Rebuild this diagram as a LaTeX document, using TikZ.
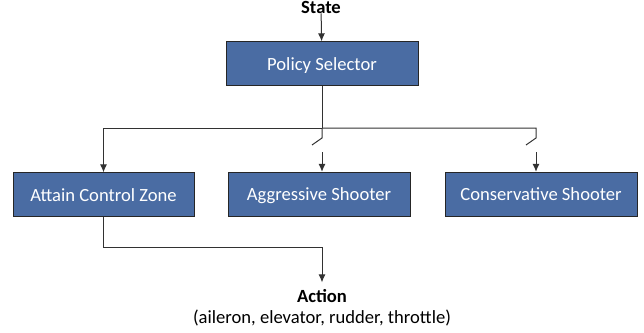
\documentclass[tikz,border=0pt]{standalone}
\usepackage{fontspec}
\setmainfont{Carlito}
\usetikzlibrary{arrows.meta,positioning,calc}
\definecolor{boxblue}{RGB}{74,108,163}
\definecolor{wire}{RGB}{50,50,50}

\begin{document}
\begin{tikzpicture}[
    x=1bp, y=-1bp,
    >={Latex[length=8bp,width=7bp]},
    policybox/.style={draw=black!85, fill=boxblue, text=white, minimum height=44bp,
        inner sep=0pt, text height=13bp, text depth=0bp,
        font=\fontsize{18.6bp}{22bp}\selectfont},
    label/.style={font=\fontsize{18.6bp}{22bp}\selectfont, inner sep=0pt},
    wirestyle/.style={draw=wire, line width=1bp}
]
    \useasboundingbox (0,0) rectangle (644,332);

    % Input and selector
    \node[label, font=\fontsize{18.6bp}{22bp}\selectfont\bfseries] (state) at (321,7) {State};
    \node[policybox, minimum width=192bp] (selector) at (322,63.5) {Policy Selector};

    % Policies
    \node[policybox, minimum width=181bp] (attain) at (103.5,194.5) {Attain Control Zone};
    \node[policybox, minimum width=182bp] (aggr) at (319,194) {Aggressive Shooter};
    \node[policybox, minimum width=192bp] (cons) at (541,194) {Conservative Shooter};

    % Output
    \node[label, font=\fontsize{18.6bp}{22bp}\selectfont\bfseries, outer sep=7bp] (action) at (322,296) {Action};
    \node[label] (controls) at (322,318) {(aileron, elevator, rudder, throttle)};

    % Switch points
    \coordinate (split) at (322,128);
    \coordinate (swa) at (322,138);
    \coordinate (swb) at (312,145);
    \coordinate (swc) at (536,138);
    \coordinate (swd) at (526,145);
    \coordinate (ina) at (322,152);
    \coordinate (inb) at (536,152);

    % Connectors
    \draw[wirestyle, ->] (state) -- (selector);
    \draw[wirestyle] (selector) -- (split);
    \draw[wirestyle, ->] (split) -| (attain.north);
    \draw[wirestyle] (split) -- (swa) -- (swb);
    \draw[wirestyle] (split) -| (swc) -- (swd);
    \draw[wirestyle, ->] (ina) -- (ina |- aggr.north);
    \draw[wirestyle, ->] (inb) -- (inb |- cons.north);
    \draw[wirestyle, ->] (attain.south) -- ++(0,31) -| (action.north);
\end{tikzpicture}
\end{document}
